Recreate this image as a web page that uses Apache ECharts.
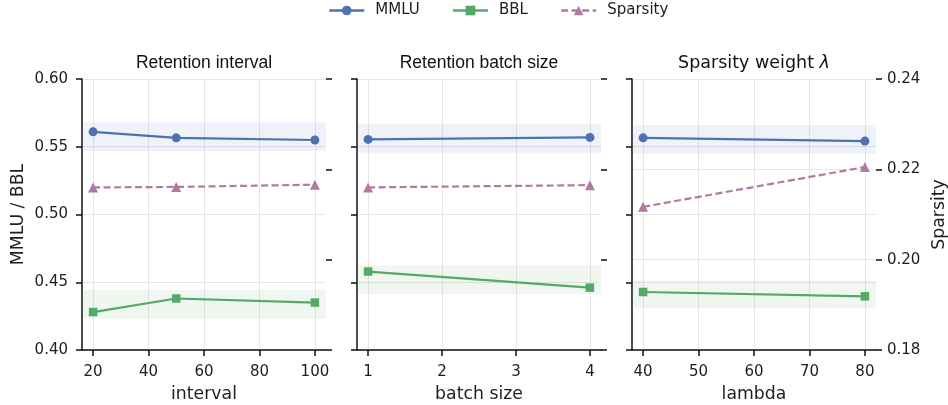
<!DOCTYPE html>
<html><head><meta charset="utf-8">
<script src="https://cdn.jsdelivr.net/npm/echarts@6/dist/echarts.min.js"></script>
<style>html,body{margin:0;padding:0;background:#fff}#c{width:948px;height:405px}</style>
</head><body><div id="c"></div>
<script>
// ---- data ----
const panelTitles = ['Retention interval', 'Retention batch size', 'Sparsity weight {l|λ}'];
const xNames = ['interval', 'batch size', 'lambda'];

const intervalX = [20, 50, 100];
const intervalMMLU = [0.561, 0.5566, 0.555];
const intervalBBL = [0.428, 0.438, 0.435];
const intervalSpar = [0.2160, 0.2161, 0.2166];
const intervalMMLUBand = [0.5469, 0.5681];
const intervalBBLBand = [0.4231, 0.4443];
const intervalTicks = [20, 40, 60, 80, 100];
const intervalRange = [16, 104];

const batchX = [1, 4];
const batchMMLU = [0.5554, 0.5569];
const batchBBL = [0.4579, 0.446];
const batchSpar = [0.2160, 0.2165];
const batchMMLUBand = [0.5455, 0.5667];
const batchBBLBand = [0.4414, 0.4626];
const batchTicks = [1, 2, 3, 4];
const batchRange = [0.85, 4.15];

const lambdaX = [40, 80];
const lambdaMMLU = [0.5566, 0.5542];
const lambdaBBL = [0.4428, 0.4396];
const lambdaSpar = [0.2117, 0.2205];
const lambdaMMLUBand = [0.5448, 0.5660];
const lambdaBBLBand = [0.4306, 0.4512];
const lambdaTicks = [40, 50, 60, 70, 80];
const lambdaRange = [38, 82];

const leftRange = [0.40, 0.60, 0.05];
const rightRange = [0.18, 0.24, 0.02];

// ---- build ----
const C = { mmlu: '#4c72b0', bbl: '#55a868', spar: '#b07aa1' };
const TXT = '#1e1e1e';
const FONT = 'DejaVu Sans';
const panels = [
  { x: intervalX, m: intervalMMLU, b: intervalBBL, s: intervalSpar, mb: intervalMMLUBand, bb: intervalBBLBand, ticks: intervalTicks, range: intervalRange, tf: 'Liberation Sans' },
  { x: batchX, m: batchMMLU, b: batchBBL, s: batchSpar, mb: batchMMLUBand, bb: batchBBLBand, ticks: batchTicks, range: batchRange, tf: 'Liberation Sans' },
  { x: lambdaX, m: lambdaMMLU, b: lambdaBBL, s: lambdaSpar, mb: lambdaMMLUBand, bb: lambdaBBLBand, ticks: lambdaTicks, range: lambdaRange, tf: 'DejaVu Sans' }
];
const lefts = [82, 357, 632];
const W = 244, TOP = 79, H = 271;
const zip = (xs, ys) => xs.map((v, i) => [v, ys[i]]);
const splitStyle = { color: '#e6e6e6', width: 1 };
const axLine = { show: true, lineStyle: { color: '#111', width: 1.5 } };
const tick = { show: true, length: 6, lineStyle: { color: '#111', width: 1.5 } };

const grid = [], xAxis = [], yAxis = [], series = [], title = [];
panels.forEach((p, i) => {
  grid.push({ left: lefts[i], top: TOP, width: W, height: H, containLabel: false, outerBoundsMode: 'none' });
  title.push({
    text: panelTitles[i], left: lefts[i] + W / 2, top: 54, textAlign: 'center', padding: 0,
    textStyle: { fontFamily: p.tf, fontSize: 17.5, fontWeight: 'normal', color: '#111',
      rich: { l: { fontFamily: 'DejaVu Sans', fontStyle: 'italic', fontSize: 17.5, color: '#111' } } }
  });
  xAxis.push({
    type: 'value', gridIndex: i, min: p.range[0], max: p.range[1],
    name: xNames[i], nameLocation: 'middle', nameGap: 36,
    nameTextStyle: { fontFamily: FONT, fontSize: 17.3, color: TXT },
    axisLine: axLine,
    axisTick: Object.assign({ customValues: p.ticks }, tick),
    axisLabel: { customValues: p.ticks, margin: 15, fontFamily: FONT, fontSize: 15, color: TXT },
    splitLine: { show: true, lineStyle: splitStyle }
  });
  yAxis.push({
    type: 'value', gridIndex: i, position: 'left', min: leftRange[0], max: leftRange[1], interval: leftRange[2],
    name: i === 0 ? 'MMLU / BBL' : '', nameLocation: 'middle', nameGap: 55,
    nameTextStyle: { fontFamily: FONT, fontSize: 17.3, color: TXT },
    axisLine: axLine, axisTick: tick,
    axisLabel: { show: i === 0, margin: 14, fontFamily: FONT, fontSize: 15, color: TXT, formatter: v => v.toFixed(2) },
    splitLine: { show: true, lineStyle: splitStyle }
  });
  yAxis.push({
    type: 'value', gridIndex: i, position: 'right', min: rightRange[0], max: rightRange[1], interval: rightRange[2],
    name: i === 2 ? 'Sparsity' : '', nameLocation: 'middle', nameGap: 55, nameRotate: 90,
    nameTextStyle: { fontFamily: FONT, fontSize: 17.3, color: TXT },
    axisLine: { show: false }, axisTick: tick,
    axisLabel: { show: i === 2, margin: 11, fontFamily: FONT, fontSize: 15, color: TXT, formatter: v => v.toFixed(2) },
    splitLine: { show: i === 2, lineStyle: splitStyle }
  });
  series.push({
    name: 'MMLU', type: 'line', xAxisIndex: i, yAxisIndex: 2 * i, data: zip(p.x, p.m),
    color: C.mmlu, symbol: 'circle', symbolSize: 9, lineStyle: { width: 2.2 }, z: 4,
    markArea: { silent: true, itemStyle: { color: 'rgba(76,114,176,0.09)' }, data: [[{ yAxis: p.mb[0] }, { yAxis: p.mb[1] }]] }
  });
  series.push({
    name: 'BBL', type: 'line', xAxisIndex: i, yAxisIndex: 2 * i, data: zip(p.x, p.b),
    color: C.bbl, symbol: 'rect', symbolSize: 8.5, lineStyle: { width: 2.2 }, z: 4,
    markArea: { silent: true, itemStyle: { color: 'rgba(85,168,104,0.09)' }, data: [[{ yAxis: p.bb[0] }, { yAxis: p.bb[1] }]] }
  });
  series.push({
    name: 'Sparsity', type: 'line', xAxisIndex: i, yAxisIndex: 2 * i + 1, data: zip(p.x, p.s),
    color: C.spar, symbol: 'triangle', symbolSize: 10, lineStyle: { width: 2.2, type: [7, 3.5] }, z: 4
  });
});

const chart = echarts.init(document.getElementById('c'));
chart.setOption({
  animation: false,
  backgroundColor: '#fff',
  title,
  legend: {
    data: ['MMLU', 'BBL', 'Sparsity'], top: 3, left: 328, padding: 0,
    itemWidth: 35, itemHeight: 12, itemGap: 32,
    lineStyle: { width: 2.5 },
    textStyle: { fontFamily: FONT, fontSize: 15, color: TXT, padding: [0, 0, 0, 6] }
  },
  grid, xAxis, yAxis, series
});
</script>
</body></html>
